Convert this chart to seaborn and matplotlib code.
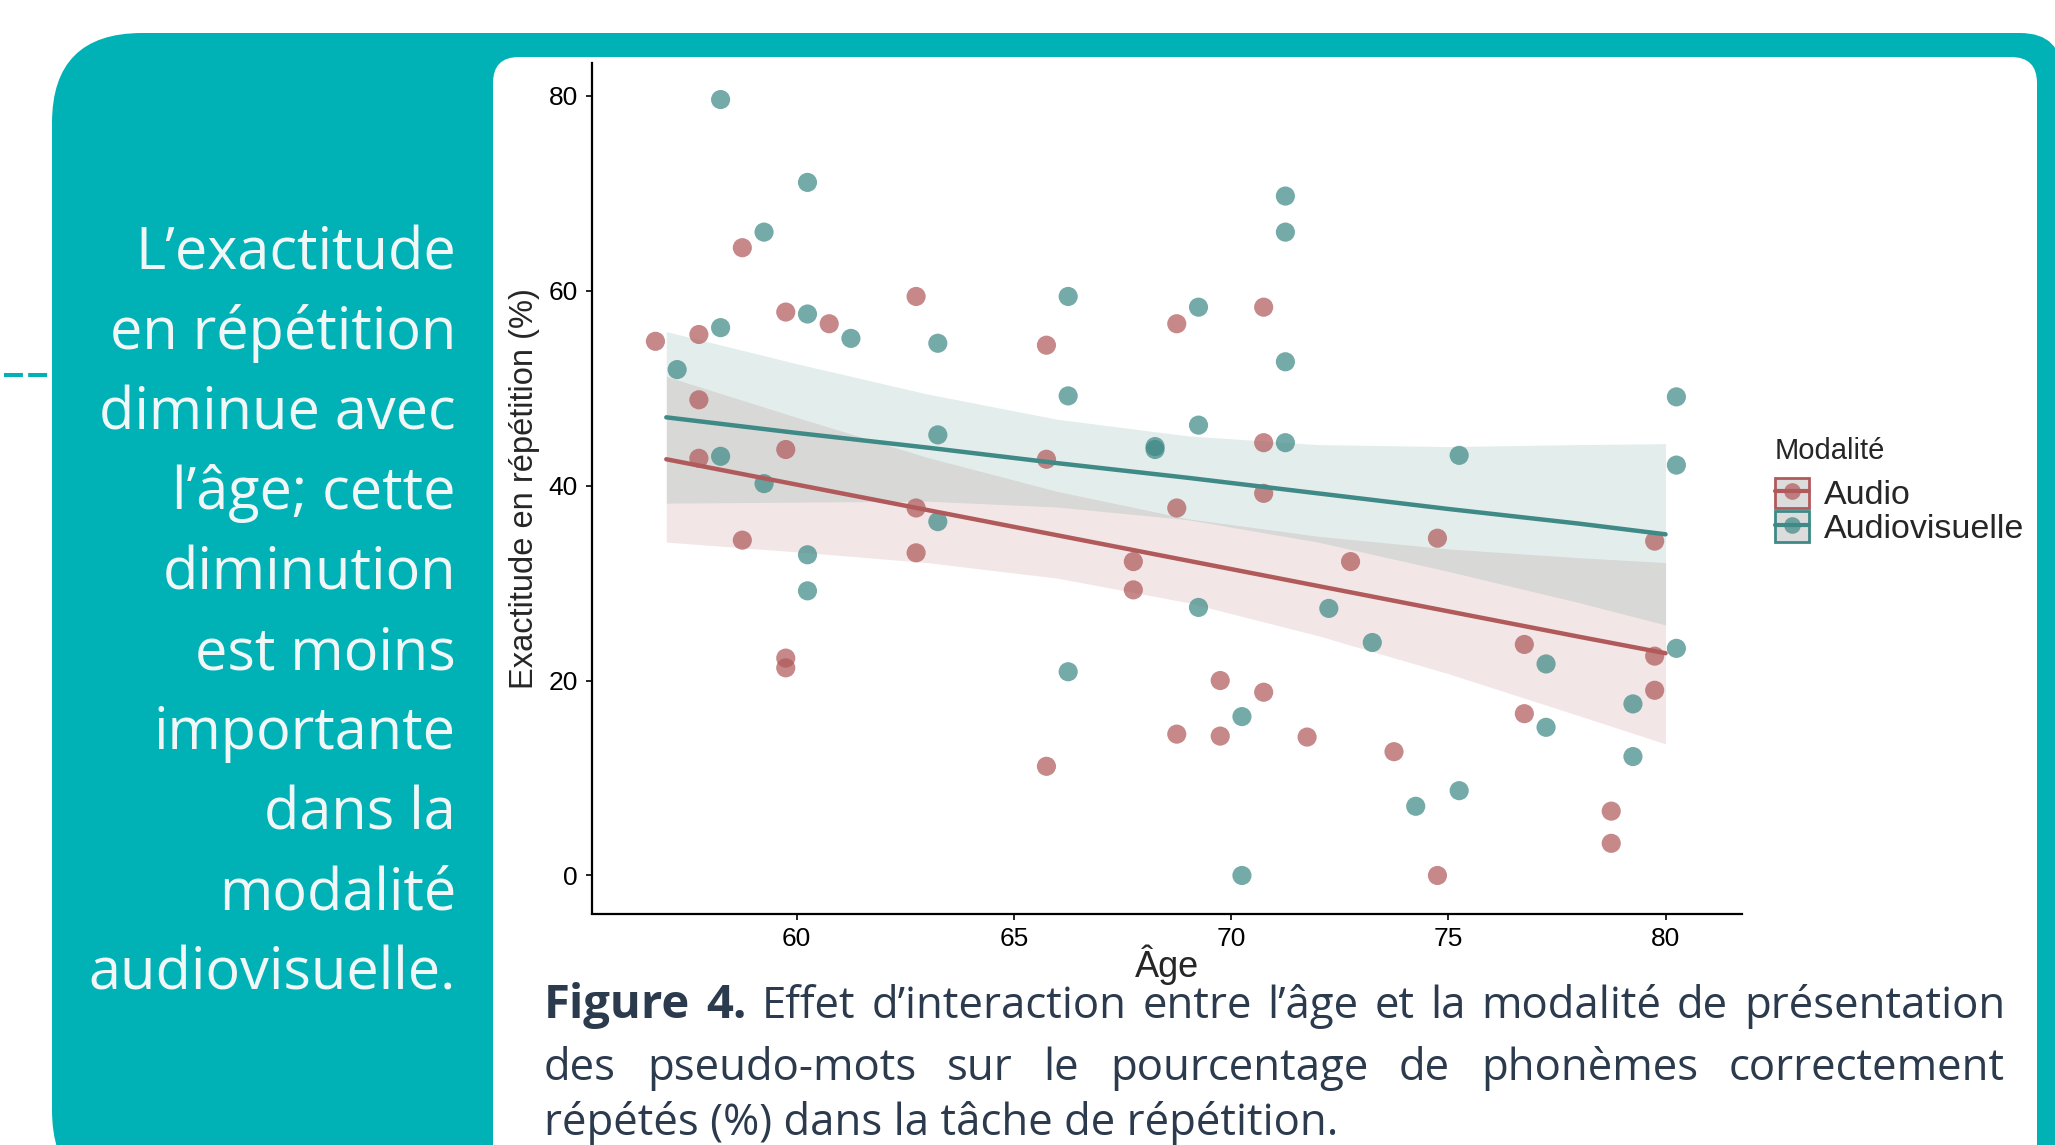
import numpy as np
import pandas as pd
import seaborn as sns
import matplotlib.pyplot as plt
from matplotlib.patches import FancyBboxPatch, Patch
from matplotlib.lines import Line2D
from matplotlib.legend_handler import HandlerTuple

# ages of the 40 participants (same people in both modalities)
ages = [57, 58, 58, 58, 59, 59, 60, 60, 60, 60, 61, 63, 63, 63, 66, 66, 66,
        68, 68, 69, 69, 69, 70, 70, 71, 71, 71, 71, 72, 73, 74, 75, 75, 77, 77,
        79, 79, 80, 80, 80]
# % of phonemes correctly repeated
audio = [54.8, 55.5, 48.8, 42.8, 64.4, 34.4, 57.8, 43.7, 22.3, 21.3, 56.6,
         59.4, 37.7, 33.1, 54.4, 42.7, 11.2, 32.2, 29.3, 56.6, 37.7, 14.5,
         20.0, 14.3, 58.3, 44.4, 39.2, 18.8, 14.2, 32.2, 12.7, 34.6, 0.0,
         23.7, 16.6, 6.6, 3.3, 34.3, 22.5, 19.0]
audiovisual = [51.9, 79.6, 56.2, 43.0, 66.0, 40.2, 71.1, 57.6, 32.9, 29.2,
               55.1, 54.6, 45.2, 36.3, 59.4, 49.2, 20.9, 44.0, 43.7, 58.3,
               46.2, 27.5, 16.3, 0.0, 69.7, 66.0, 52.7, 44.4, 27.4, 23.9, 7.1,
               43.1, 8.7, 21.7, 15.2, 17.6, 12.2, 49.1, 42.1, 23.3]
modalities = ['Audio', 'Audiovisuelle']

# model predictions with 95% band
fit_ages = [57, 60, 63, 66, 69, 72, 75, 78, 80]
audio_fit = [42.7, 40.1, 37.5, 34.9, 32.3, 29.7, 27.1, 24.5, 22.8]
audio_lo = [34.2, 33.2, 32.1, 30.5, 28.0, 24.6, 20.7, 16.4, 13.5]
audio_hi = [51.2, 47.0, 42.9, 39.4, 36.6, 34.8, 33.5, 32.6, 32.1]
av_fit = [47.0, 45.4, 43.9, 42.3, 40.8, 39.2, 37.6, 36.1, 35.0]
av_lo = [38.2, 38.3, 38.4, 37.8, 36.5, 34.2, 31.2, 28.0, 25.7]
av_hi = [55.8, 52.5, 49.4, 46.8, 45.1, 44.2, 44.0, 44.2, 44.3]

x_ticks = [60, 65, 70, 75, 80]
y_ticks = [0, 20, 40, 60, 80]

left_lines = ["L’exactitude", "en répétition", "diminue avec", "l’âge; cette",
              "diminution", "est moins", "importante", "dans la", "modalité",
              "audiovisuelle."]
caption_1 = [("Figure", True), ("4.", True), ("Effet", False), ("d’interaction", False),
             ("entre", False), ("l’âge", False), ("et", False), ("la", False),
             ("modalité", False), ("de", False), ("présentation", False)]
caption_2 = "des pseudo-mots sur le pourcentage de phonèmes correctement"
caption_3 = "répétés (%) dans la tâche de répétition."

BG_TEAL = '#00b2b6'
RED = '#b05a5b'
TEAL = '#3f8986'
palette = {'Audio': RED, 'Audiovisuelle': TEAL}
CAP_COLOR = '#2c3a4e'
CAP_FS = 31.5
TXT_FONT = 'Open Sans'

df = pd.DataFrame({
    'Âge': ages * 2,
    'score': audio + audiovisual,
    'Modalité': [modalities[0]] * len(ages) + [modalities[1]] * len(ages),
})
# small horizontal dodge between the two groups
df['x_dodge'] = df['Âge'] + df['Modalité'].map({'Audio': -0.25, 'Audiovisuelle': 0.25})

fit = pd.DataFrame({
    'Âge': fit_ages * 2,
    'pred': audio_fit + av_fit,
    'lo': audio_lo + av_lo,
    'hi': audio_hi + av_hi,
    'Modalité': [modalities[0]] * len(fit_ages) + [modalities[1]] * len(fit_ages),
})

sns.set_style("white")
plt.rcParams['font.family'] = ['Liberation Sans', 'DejaVu Sans']

fig = plt.figure(figsize=(20.55, 11.45), dpi=100)

# slide background, in pixel units
bg = fig.add_axes([0, 0, 1, 1], zorder=0)
bg.set_xlim(0, 2055)
bg.set_ylim(1145, 0)
bg.axis('off')
bg.add_patch(FancyBboxPatch((52, 33), 600, 1167, boxstyle='round,pad=0,rounding_size=90',
                            fc=BG_TEAL, ec='none'))
bg.add_patch(FancyBboxPatch((400, 33), 1662, 1300, boxstyle='round,pad=0,rounding_size=42',
                            fc=BG_TEAL, ec='none'))
bg.add_patch(FancyBboxPatch((493, 57), 1544, 1300, boxstyle='round,pad=0,rounding_size=26',
                            fc='white', ec='none'))
bg.plot([4, 50], [375, 375], color=BG_TEAL, lw=2.9, dashes=(4.7, 1.3))

for i, s in enumerate(left_lines):
    bg.text(456, 269 + 80 * i, s, ha='right', va='baseline', fontsize=41.5,
            color='#f1f7f7', family=TXT_FONT)

# caption, justified by hand
renderer = fig.canvas.get_renderer()


def justify(y, words, x0=544, x1=2005):
    texts = [bg.text(0, y, w, fontsize=CAP_FS * 1.08 if b else CAP_FS, family=TXT_FONT,
                     color=CAP_COLOR, weight='bold' if b else 'normal',
                     va='baseline', ha='left')
             for w, b in words]
    widths = [t.get_window_extent(renderer).width for t in texts]
    gap = (x1 - x0 - sum(widths)) / (len(texts) - 1)
    x = x0
    for t, w in zip(texts, widths):
        t.set_x(x)
        x += w + gap


justify(1018, caption_1)
justify(1080, [(w, False) for w in caption_2.split()])
bg.text(544, 1135, caption_3, fontsize=CAP_FS, family=TXT_FONT, color=CAP_COLOR,
        va='baseline', ha='left')

# the chart
ax = fig.add_axes([592 / 2055, 1 - 913.5 / 1145, 1150 / 2055, 850.5 / 1145], zorder=2)
ax.patch.set_alpha(0)

for m in modalities:
    sub = fit[fit['Modalité'] == m]
    ax.fill_between(sub['Âge'], sub['lo'], sub['hi'], color=palette[m], alpha=0.15,
                    lw=0, zorder=1)

sns.scatterplot(data=df, x='x_dodge', y='score', hue='Modalité', palette=palette,
                s=190, alpha=0.72, edgecolor='none', legend=False, ax=ax, zorder=2)
sns.lineplot(data=fit, x='Âge', y='pred', hue='Modalité', palette=palette, lw=3.2,
             legend=False, ax=ax, zorder=3)

ax.set_xlim(55.29, 81.76)
ax.set_ylim(-3.9, 83.35)
ax.set_xticks(x_ticks)
ax.set_yticks(y_ticks)
ax.tick_params(labelsize=19, length=4, width=1.2, colors='black', pad=6, left=True, bottom=True)
sns.despine(ax=ax)
for sp in ['left', 'bottom']:
    ax.spines[sp].set_linewidth(1.6)
    ax.spines[sp].set_color('black')
ax.set_xlabel('Âge', fontsize=26, labelpad=-5)
ax.set_ylabel('Exactitude en répétition (%)', fontsize=23.5, labelpad=6)

handles = []
for m in modalities:
    box = Patch(facecolor='#dcdcdc', edgecolor=palette[m], linewidth=2)
    ln = Line2D([], [], color=palette[m], lw=3)
    dot = Line2D([], [], color=palette[m], lw=0, marker='o', markersize=12,
                 markeredgecolor='none', alpha=0.72)
    handles.append((box, ln, dot))
leg = fig.legend(handles, modalities, handler_map={tuple: HandlerTuple(ndivide=1, pad=0)},
                 title='Modalité', loc='upper left',
                 bbox_to_anchor=(1775 / 2055, 1 - 437 / 1145),
                 frameon=False, fontsize=24.5, title_fontsize=21, handlelength=1.0,
                 handleheight=1.0, labelspacing=0.0, handletextpad=0.45,
                 alignment='left', borderaxespad=0, borderpad=0)
leg._legend_box.sep = 9  # gap between title and keys

fig.savefig('out.png', dpi=100)
